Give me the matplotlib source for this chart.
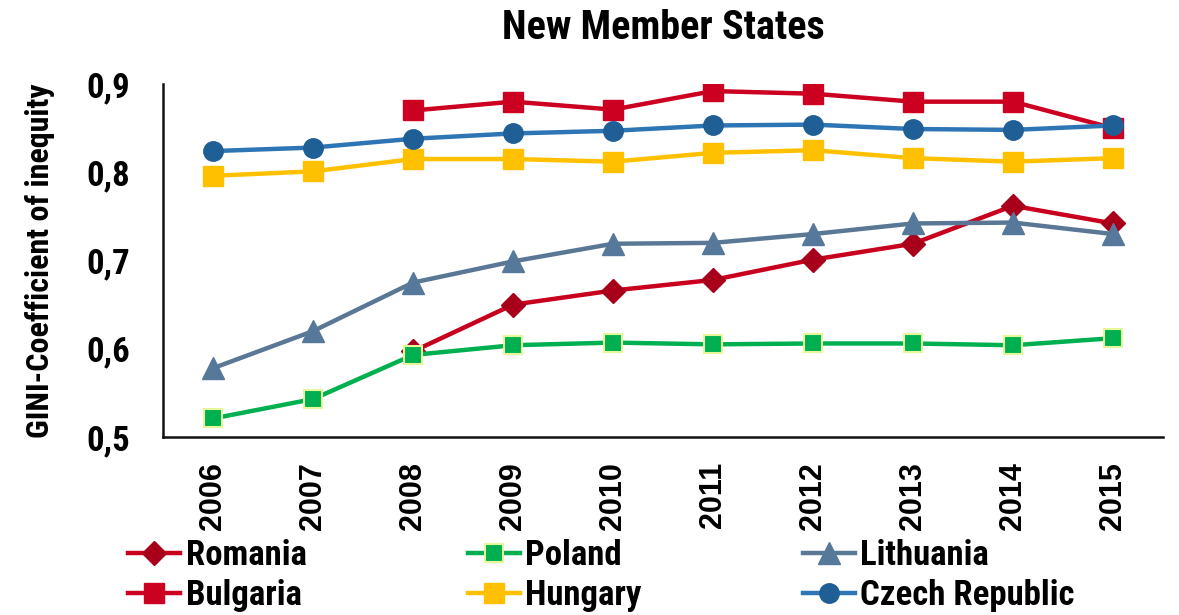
import matplotlib
matplotlib.use("Agg")
import matplotlib.pyplot as plt
import numpy as np

nan = np.nan
years = ["2006", "2007", "2008", "2009", "2010", "2011", "2012", "2013", "2014", "2015"]

romania = [nan, nan, 0.597, 0.650, 0.666, 0.678, 0.701, 0.719, 0.762, 0.742]
bulgaria = [nan, nan, 0.870, 0.880, 0.871, 0.892, 0.889, 0.880, 0.880, 0.850]
poland = [0.521, 0.543, 0.593, 0.604, 0.607, 0.605, 0.606, 0.606, 0.604, 0.612]
hungary = [0.796, 0.801, 0.815, 0.815, 0.812, 0.822, 0.825, 0.816, 0.812, 0.816]
lithuania = [0.578, 0.620, 0.675, 0.699, 0.719, 0.720, 0.730, 0.742, 0.743, 0.730]
czech = [0.824, 0.828, 0.838, 0.844, 0.847, 0.853, 0.854, 0.849, 0.848, 0.853]

NARROW = ["Roboto Condensed", "DejaVu Sans"]
WIDE = ["Liberation Sans", "DejaVu Sans"]

fig = plt.figure(figsize=(11.79, 6.15), dpi=100)
ax = fig.add_axes([0.1383, 0.2894, 0.8481, 0.574])

x = np.arange(len(years))
lw = 3.2
ax.plot(x, romania, color="#C8001E", lw=lw, marker="D", ms=12,
        mfc="#A8001A", mec="#A8001A", label="Romania", zorder=3)
ax.plot(x, bulgaria, color="#CC0020", lw=lw, marker="s", ms=14,
        mfc="#CC0020", mec="#CC0020", label="Bulgaria", zorder=3)
ax.plot(x, poland, color="#00B050", lw=lw, marker="s", ms=13,
        mfc="#00B050", mec="#E6F79A", mew=1.5, label="Poland", zorder=4)
ax.plot(x, hungary, color="#FFC000", lw=lw, marker="s", ms=14,
        mfc="#FFC000", mec="#FFC000", label="Hungary", zorder=4)
ax.plot(x, lithuania, color="#5A7896", lw=lw, marker="^", ms=16,
        mfc="#56789A", mec="#56789A", label="Lithuania", zorder=5)
ax.plot(x, czech, color="#2E75B6", lw=lw, marker="o", ms=14,
        mfc="#1F5F96", mec="#1F5F96", label="Czech Republic", zorder=6)

ax.set_xlim(-0.5, len(years) - 0.5)
ax.set_ylim(0.5, 0.9)
ax.set_xticks(x)
ax.set_xticklabels(years, rotation=90, fontsize=22, fontweight="bold", family=WIDE)
yt = [0.5, 0.6, 0.7, 0.8, 0.9]
ax.set_yticks(yt)
ax.set_yticklabels([f"{v:.1f}".replace(".", ",") for v in yt],
                   fontsize=25, fontweight="bold", family=NARROW)
ax.tick_params(length=0, pad=24)
ax.tick_params(axis="x", pad=18)
for s in ["top", "right"]:
    ax.spines[s].set_visible(False)
for s in ["left", "bottom"]:
    ax.spines[s].set_linewidth(1.8)
    ax.spines[s].set_color("#111111")

ax.set_ylabel("GINI-Coefficient of inequity", fontsize=23, fontweight="bold",
              family=NARROW, labelpad=22)
fig.text(0.563, 0.954, "New Member States", ha="center", va="center",
         fontsize=29, fontweight="bold", family=NARROW)

h, l = ax.get_legend_handles_labels()
fig.legend(h, l, ncol=3,
           loc="center left", bbox_to_anchor=(0.097, 0.064), frameon=False,
           prop={"family": NARROW, "weight": "bold", "size": 25},
           handlelength=1.5, handletextpad=0.15, columnspacing=4.65,
           labelspacing=0.22, borderaxespad=0)

fig.savefig("out.png", dpi=100)
